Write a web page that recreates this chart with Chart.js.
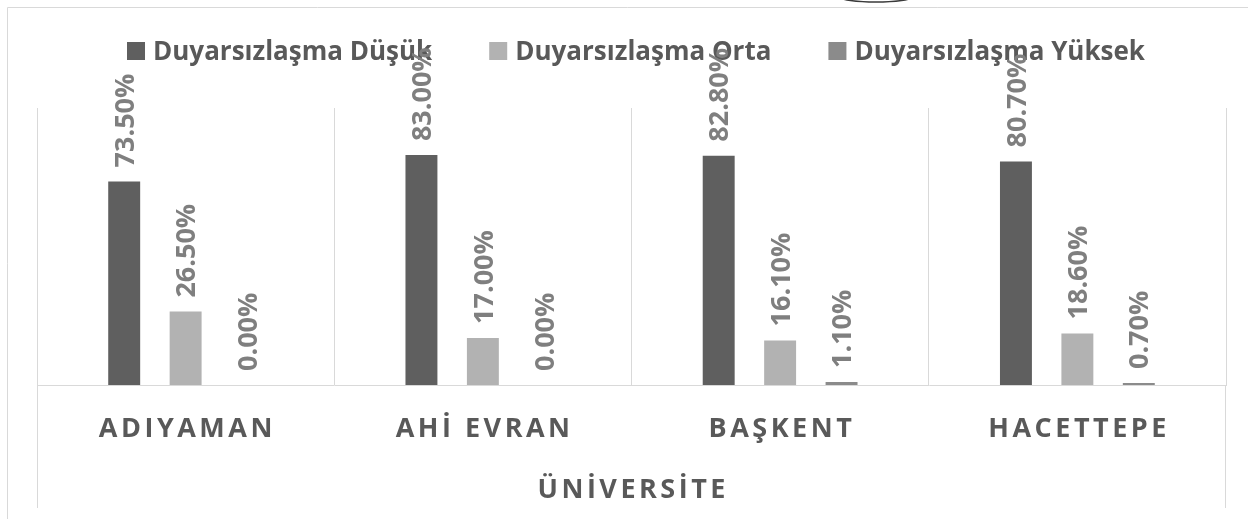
<!DOCTYPE html>
<html>
<head>
<meta charset="utf-8">
<script src="https://cdn.jsdelivr.net/npm/chart.js@4"></script>
<style>
html, body { margin: 0; padding: 0; background: #fff; }
#wrap { width: 1248px; height: 519px; position: relative; }
</style>
</head>
<body>
<div id="wrap"><canvas id="chart"></canvas></div>
<script>
// Chart data
const universities = ['ADIYAMAN', 'AHİ EVRAN', 'BAŞKENT', 'HACETTEPE'];
const seriesNames = ['Duyarsızlaşma Düşük', 'Duyarsızlaşma Orta', 'Duyarsızlaşma Yüksek'];
const lowValues = [73.5, 83.0, 82.8, 80.7];
const midValues = [26.5, 17.0, 16.1, 18.6];
const highValues = [0.0, 0.0, 1.1, 0.7];
const axisTitle = 'ÜNİVERSİTE';

const barColors = ['#5f5f5f', '#b2b2b2', '#8b8b8b'];
const textColor = '#595959';
const labelColor = '#7f7f7f';
const gridColor = '#d9d9d9';
const fontFamily = '"Open Sans", "DejaVu Sans", sans-serif';

// Frame, outer grid extensions and the little arc at the top
const framePlugin = {
    id: 'frame',
    beforeDraw(chart) {
        const ctx = chart.ctx;
        const area = chart.chartArea;
        ctx.save();
        ctx.strokeStyle = gridColor;
        ctx.lineWidth = 1;
        ctx.beginPath();
        ctx.moveTo(7.5, 519);
        ctx.lineTo(7.5, 7.5);
        ctx.lineTo(1248, 7.5);
        ctx.stroke();
        // outer category borders run down past the labels
        ctx.beginPath();
        ctx.moveTo(Math.round(area.left) + 0.5, area.bottom);
        ctx.lineTo(Math.round(area.left) + 0.5, 508);
        ctx.moveTo(Math.round(area.right) - 0.5, area.bottom);
        ctx.lineTo(Math.round(area.right) - 0.5, 508);
        ctx.stroke();
        // leftover arc at top edge
        ctx.strokeStyle = '#3a3a3a';
        ctx.lineWidth = 1.5;
        ctx.beginPath();
        ctx.ellipse(876, -3, 36, 5, 0, 0, Math.PI);
        ctx.stroke();
        ctx.restore();
    }
};

// Legend drawn by hand so the spacing matches
const legendPlugin = {
    id: 'customLegend',
    beforeDatasetsDraw(chart) {
        const ctx = chart.ctx;
        const size = 26;
        const box = 18;
        const gap = 57;
        ctx.save();
        ctx.font = 'bold ' + size + 'px ' + fontFamily;
        const widths = chart.data.datasets.map(ds => box + 8 + ctx.measureText(ds.label).width);
        const total = widths.reduce((a, b) => a + b, 0) + gap * (widths.length - 1);
        let x = 636 - total / 2;
        const cy = 51;
        chart.data.datasets.forEach((ds, i) => {
            ctx.fillStyle = ds.backgroundColor;
            ctx.fillRect(x, cy - box / 2, box, box);
            ctx.fillStyle = textColor;
            ctx.textBaseline = 'alphabetic';
            ctx.textAlign = 'left';
            ctx.fillText(ds.label, x + box + 8, cy + size * 0.714 / 2);
            x += widths[i] + gap;
        });
        ctx.restore();
    }
};

// Rotated value labels above each bar
const valueLabelPlugin = {
    id: 'valueLabels',
    afterDatasetsDraw(chart) {
        const ctx = chart.ctx;
        const size = 27;
        ctx.save();
        ctx.font = 'bold ' + size + 'px ' + fontFamily;
        ctx.fillStyle = labelColor;
        ctx.textAlign = 'left';
        ctx.textBaseline = 'alphabetic';
        chart.data.datasets.forEach((ds, i) => {
            const meta = chart.getDatasetMeta(i);
            meta.data.forEach((bar, j) => {
                ctx.save();
                ctx.translate(bar.x, bar.y - 14);
                ctx.rotate(-Math.PI / 2);
                ctx.fillText(ds.data[j].toFixed(2) + '%', 0, size * 0.714 / 2);
                ctx.restore();
            });
        });
        ctx.restore();
    }
};

// Category labels and axis title with letter spacing
const categoryPlugin = {
    id: 'categoryLabels',
    afterDraw(chart) {
        const ctx = chart.ctx;
        const xScale = chart.scales.x;
        const size = 27;
        const spacing = 3.5;
        ctx.save();
        ctx.fillStyle = textColor;
        ctx.textAlign = 'center';
        ctx.textBaseline = 'alphabetic';
        ctx.font = 'bold ' + size + 'px ' + fontFamily;
        ctx.letterSpacing = spacing + 'px';
        universities.forEach((name, i) => {
            ctx.fillText(name, xScale.getPixelForValue(i) + spacing / 2, 427 + size * 0.714 / 2);
        });
        ctx.fillText(axisTitle, (chart.chartArea.left + chart.chartArea.right) / 2 + spacing / 2, 488 + size * 0.714 / 2);
        ctx.restore();
    }
};

const ctx = document.getElementById('chart').getContext('2d');
const chart = new Chart(ctx, {
    type: 'bar',
    data: {
        labels: universities,
        datasets: [
            { label: seriesNames[0], data: lowValues, backgroundColor: barColors[0] },
            { label: seriesNames[1], data: midValues, backgroundColor: barColors[1] },
            { label: seriesNames[2], data: highValues, backgroundColor: barColors[2] }
        ]
    },
    options: {
        responsive: true,
        maintainAspectRatio: false,
        animation: false,
        devicePixelRatio: 1,
        categoryPercentage: 0.62,
        barPercentage: 0.52,
        layout: {
            padding: { left: 37, right: 22, top: 108, bottom: 134 }
        },
        plugins: {
            legend: { display: false },
            tooltip: { enabled: false }
        },
        scales: {
            x: {
                ticks: { display: false },
                grid: { color: gridColor, drawTicks: false, offset: true },
                border: { color: gridColor }
            },
            y: {
                display: false,
                min: 0,
                max: 100
            }
        }
    },
    plugins: [framePlugin, legendPlugin, valueLabelPlugin, categoryPlugin]
});
</script>
</body>
</html>
